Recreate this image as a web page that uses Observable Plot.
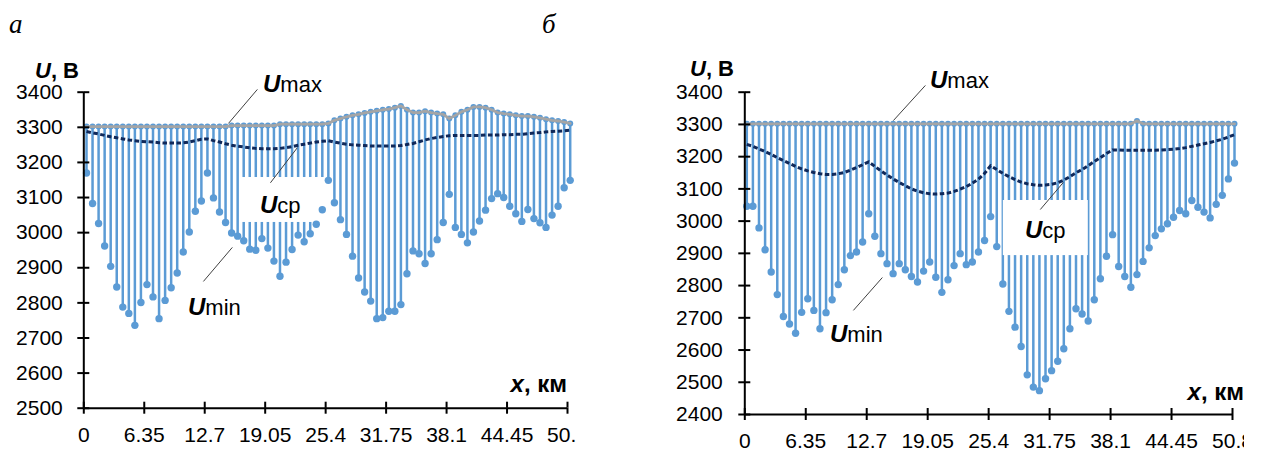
<!DOCTYPE html>
<html><head><meta charset="utf-8">
<script src="https://cdn.jsdelivr.net/npm/d3@7"></script>
<script src="https://cdn.jsdelivr.net/npm/@observablehq/plot@0.6"></script>
<style>
html,body{margin:0;padding:0;background:#fff;}
#wrap{position:relative;width:1262px;height:452px;overflow:hidden;font-family:"Liberation Sans",Arial,sans-serif;}
#pa{position:absolute;left:0;top:0;}
#pb{position:absolute;left:650px;top:0;}
#ov{position:absolute;left:0;top:0;pointer-events:none;}
</style></head>
<body><div id="wrap"><div id="pa"></div><div id="pb"></div>
<svg id="ov" width="1262" height="452" font-family="Liberation Sans, Arial, sans-serif">
  <text x="9" y="33" font-family="Liberation Serif, Times New Roman, serif" font-style="italic" font-size="27">а</text>
  <text x="542" y="33" font-family="Liberation Serif, Times New Roman, serif" font-style="italic" font-size="27">б</text>
  <text x="35" y="78" font-size="22" font-weight="bold"><tspan font-style="italic">U</tspan>, В</text>
  <text x="690" y="76" font-size="22" font-weight="bold"><tspan font-style="italic">U</tspan>, В</text>
  <text x="567" y="392" font-size="24" font-weight="bold" text-anchor="end"><tspan font-style="italic">x</tspan>, км</text>
  <text x="1244" y="400" font-size="24" font-weight="bold" text-anchor="end"><tspan font-style="italic">x</tspan>, км</text>
  <text x="263" y="92"><tspan font-size="24" font-weight="bold" font-style="italic">U</tspan><tspan font-size="22">max</tspan></text>
  <text x="260" y="213"><tspan font-size="24" font-weight="bold" font-style="italic">U</tspan><tspan font-size="22">ср</tspan></text>
  <text x="188" y="315"><tspan font-size="24" font-weight="bold" font-style="italic">U</tspan><tspan font-size="22">min</tspan></text>
  <text x="930" y="88"><tspan font-size="24" font-weight="bold" font-style="italic">U</tspan><tspan font-size="22">max</tspan></text>
  <text x="1025" y="238"><tspan font-size="24" font-weight="bold" font-style="italic">U</tspan><tspan font-size="22">ср</tspan></text>
  <text x="830" y="342"><tspan font-size="24" font-weight="bold" font-style="italic">U</tspan><tspan font-size="22">min</tspan></text>
</svg>
</div>
<script>
// ---- data ----
const xTicks = [0, 6.35, 12.7, 19.05, 25.4, 31.75, 38.1, 44.45, 50.8];
const xTickLabels = ["0", "6.35", "12.7", "19.05", "25.4", "31.75", "38.1", "44.45", "50.8"];
const yTicksA = [2500, 2600, 2700, 2800, 2900, 3000, 3100, 3200, 3300, 3400];
const yTicksB = [2400, 2500, 2600, 2700, 2800, 2900, 3000, 3100, 3200, 3300, 3400];
const pointCount = 81;
const kmStep = 0.635;
const xKm = Array.from({length: pointCount}, (_, i) => i * kmStep);

const uminA = [3170,3083,3026,2962,2904,2845,2788,2770,2736,2801,2852,2817,2755,2807,2843,2885,2945,3002,3061,3090,
  3170,3099,3059,3029,2999,2990,2977,2953,2950,2983,2956,2919,2876,2916,2952,2993,2974,2997,3024,3065,
  3149,3085,3037,2995,2933,2871,2831,2805,2755,2758,2776,2776,2795,2883,2948,2940,2912,2940,2980,3029,
  3109,3015,2995,2971,3002,3033,3064,3097,3111,3100,3075,3054,3032,3066,3040,3028,3015,3050,3075,3128,3149];
const umaxA = [3302,3302,3302,3302,3302,3302,3302,3302,3302,3302,3302,3302,3302,3302,3302,3302,3302,3302,3302,3302,
  3302,3302,3302,3302,3305,3305,3305,3305,3305,3305,3305,3305,3309,3309,3309,3309,3309,3309,3309,3309,
  3311,3320,3325,3330,3334,3337,3341,3344,3347,3350,3352,3356,3361,3350,3342,3342,3346,3342,3339,3337,
  3325,3334,3344,3350,3358,3358,3356,3350,3342,3339,3337,3334,3332,3332,3330,3327,3323,3320,3318,3315,3311];
const ucpA = [3288,3284,3281,3277,3273,3270,3267,3264,3262,3260,3259,3258,3256,3255,3255,3255,3256,3258,3262,3266,
  3267,3262,3258,3253,3249,3246,3244,3242,3240,3239,3239,3239,3240,3242,3245,3249,3252,3255,3258,3260,
  3262,3258,3255,3252,3250,3249,3248,3247,3247,3247,3247,3247,3248,3251,3254,3259,3264,3268,3271,3274,
  3276,3277,3277,3277,3277,3277,3278,3278,3278,3279,3279,3280,3280,3282,3284,3285,3287,3288,3289,3290,3292];

const uminB = [3046,3046,2979,2911,2842,2772,2704,2681,2652,2717,2759,2723,2666,2716,2756,2803,2849,2893,2904,2935,
  3023,2953,2899,2868,2837,2868,2849,2828,2811,2845,2873,2826,2779,2818,2862,2899,2865,2873,2904,2940,
  3014,2921,2805,2720,2671,2611,2523,2485,2474,2511,2536,2565,2604,2666,2728,2712,2690,2756,2821,2891,
  2958,2859,2828,2795,2834,2875,2917,2955,2976,2992,3012,3033,3023,3064,3043,3028,3010,3052,3080,3131,3180];
const umaxB = [3302,3302,3302,3302,3302,3302,3302,3302,3302,3302,3302,3302,3302,3302,3302,3302,3302,3302,3302,3302,
  3302,3302,3302,3302,3302,3302,3302,3302,3302,3302,3302,3302,3302,3302,3302,3302,3302,3302,3302,3302,
  3302,3302,3302,3302,3302,3302,3302,3302,3302,3302,3302,3302,3302,3302,3302,3302,3302,3302,3302,3302,
  3302,3302,3302,3302,3311,3302,3302,3302,3302,3302,3302,3302,3302,3302,3302,3302,3302,3302,3302,3302,3302];
const ucpB = [3238,3232,3224,3216,3207,3197,3188,3179,3170,3162,3156,3151,3147,3145,3145,3147,3151,3158,3166,3175,
  3184,3170,3156,3143,3131,3120,3110,3100,3093,3088,3085,3084,3085,3087,3092,3099,3107,3118,3130,3148,
  3172,3160,3148,3138,3129,3121,3116,3113,3111,3112,3114,3119,3127,3138,3150,3160,3172,3185,3197,3210,
  3221,3221,3220,3220,3220,3220,3220,3220,3221,3222,3223,3225,3228,3232,3236,3240,3244,3249,3254,3261,3268];

// annotation geometry (data units)
const boxA = [{x1: 16.45, x2: 25.37, y1: 3029, y2: 3157}];
const leadersA = [
  {x1: 15.19, y1: 3311, x2: 18.23, y2: 3408},
  {x1: 22.43, y1: 3242, x2: 19.6, y2: 3142},
  {x1: 15.6, y1: 2958, x2: 12.56, y2: 2861}
];
const boxB = [{x1: 26.93, x2: 35.78, y1: 2893, y2: 3064}];
const leadersB = [
  {x1: 15.48, y1: 3312, x2: 18.81, y2: 3421},
  {x1: 33.18, y1: 3120, x2: 30.78, y2: 3036},
  {x1: 14.33, y1: 2825, x2: 11.31, y2: 2723}
];

// ---- drawing ----
const blue = "#5b9bd5", grey = "#a5a5a5", navy = "#10295a";

function panel({umin, umax, ucp, yDomain, yTicks, width, mL, mR, mT, mB, box, leaders, shift, ypad, xpad}) {
  const rows = xKm.map((x, i) => ({x, umin: umin[i], umax: umax[i], ucp: ucp[i]}));
  const plotW = width - mL - mR, plotH = 452 - mT - mB;
  return Plot.plot({
    width, height: 452,
    marginLeft: mL, marginRight: mR, marginTop: mT, marginBottom: mB,
    style: {fontFamily: "Liberation Sans, Arial, sans-serif", fontSize: "21px", color: "black", background: "white", overflow: "hidden"},
    x: {domain: [0, 50.8]},
    y: {domain: yDomain},
    marks: [
      Plot.ruleX(rows, {x: "x", y1: "umin", y2: "umax", stroke: blue, strokeWidth: 2.5, dx: shift}),
      Plot.rect(box, {x1: "x1", x2: "x2", y1: "y1", y2: "y2", fill: "white"}),
      Plot.dot(rows, {x: "x", y: "umin", r: 3.7, fill: blue, stroke: "none", dx: shift}),
      Plot.dot(rows, {x: "x", y: "umax", r: 3, fill: blue, stroke: "none", dx: shift}),
      Plot.line(rows, {x: "x", y: "umax", stroke: grey, strokeWidth: 2.8, dx: shift}),
      Plot.line(rows, {x: "x", y: "ucp", stroke: navy, strokeWidth: 3, strokeDasharray: "4.5,2.5", strokeLinecap: "butt", dx: shift}),
      Plot.link(leaders, {x1: "x1", y1: "y1", x2: "x2", y2: "y2", stroke: "#404040", strokeWidth: 1}),
      Plot.ruleX([0], {stroke: "black", strokeWidth: 2}),
      Plot.ruleY([yDomain[0]], {stroke: "black", strokeWidth: 2}),
      Plot.axisY({ticks: yTicks, tickSize: 6, tickPadding: ypad, strokeWidth: 2, tickFormat: d => String(d), label: null}),
      Plot.tickY(yTicks, {y: d => d, insetRight: plotW - 6, stroke: "black", strokeWidth: 2}),
      Plot.axisX({ticks: xTicks, tickSize: 6, tickPadding: xpad, strokeWidth: 2, tickFormat: d => xTickLabels[xTicks.indexOf(d)], label: null}),
      Plot.tickX(xTicks, {x: d => d, insetTop: plotH - 6, stroke: "black", strokeWidth: 2})
    ]
  });
}

document.getElementById("pa").appendChild(panel({
  umin: uminA, umax: umaxA, ucp: ucpA, yDomain: [2500, 3400], yTicks: yTicksA,
  width: 576, mL: 83.3, mR: 9, mT: 91.7, mB: 44.3, box: boxA, leaders: leadersA, shift: 2.7, ypad: 15, xpad: 13
}));
document.getElementById("pb").appendChild(panel({
  umin: uminB, umax: umaxB, ucp: ucpB, yDomain: [2400, 3400], yTicks: yTicksB,
  width: 594, mL: 94.3, mR: 12, mT: 91.7, mB: 38, box: boxB, leaders: leadersB, shift: 2, ypad: 16, xpad: 13
}));
</script>
</body></html>
